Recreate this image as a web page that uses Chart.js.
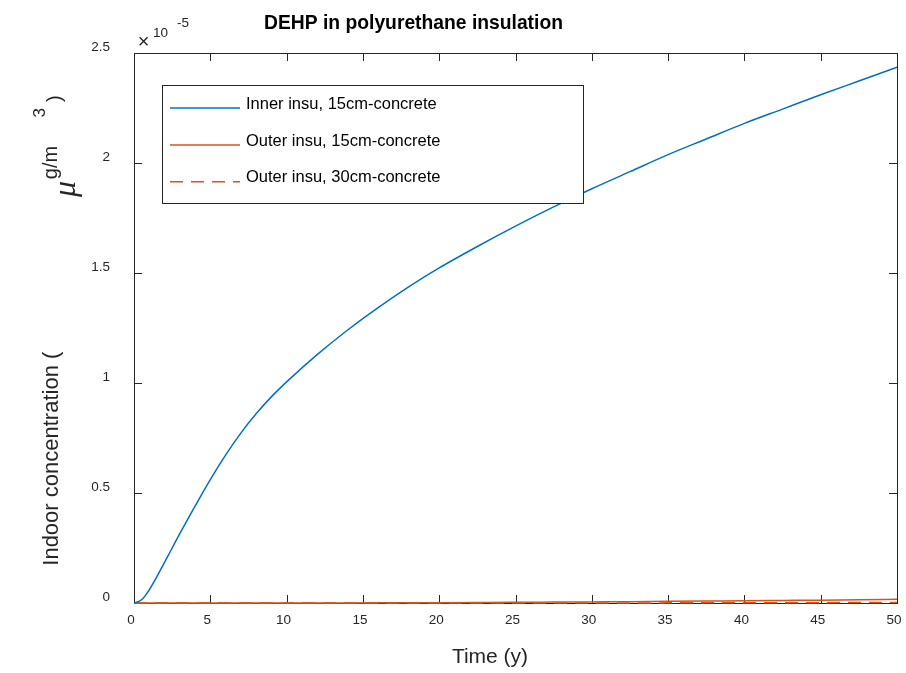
<!DOCTYPE html>
<html>
<head>
<meta charset="utf-8">
<script src="https://cdn.jsdelivr.net/npm/chart.js@4.4.1/dist/chart.umd.min.js"></script>
<style>
  html, body { margin: 0; padding: 0; background: #fff; overflow: hidden; }
  #wrap { width: 906px; height: 673px; position: relative; }
  canvas { display: block; }
</style>
</head>
<body>
<div id="wrap"><canvas id="chart"></canvas></div>
<script>
// time in years
const years = [0, 0.5, 1, 1.5, 2, 2.5, 3, 3.5, 4, 5, 6, 7, 8, 9, 10, 12, 14, 16, 18, 20, 22.5, 25, 27.5, 30, 32.5, 35, 37.5, 40, 42.5, 45, 47.5, 50];
// indoor concentration, x 1e-5 ug/m3
const innerInsu15 = [0, 0.015, 0.06, 0.12, 0.185, 0.25, 0.315, 0.378, 0.44, 0.561, 0.672, 0.772, 0.86, 0.937, 1.005, 1.129, 1.241, 1.343, 1.437, 1.523, 1.6205, 1.713, 1.8005, 1.883, 1.9605, 2.038, 2.109, 2.18, 2.245, 2.31, 2.3725, 2.435];
const outerInsu15 = [0, 0, 0, 0, 0, 0, 0, 0, 0, 0, 0, 0, 0, 0, 0, 0.0001, 0.0003, 0.0006, 0.001, 0.0015, 0.0022, 0.003, 0.004, 0.005, 0.006, 0.0075, 0.0088, 0.01, 0.0115, 0.013, 0.0148, 0.0165];
const outerInsu30 = [0, 0, 0, 0, 0, 0, 0, 0, 0, 0, 0, 0, 0, 0, 0, 0, 0, 0, 0, 0, 0, 0, 0, 0.0003, 0.0004, 0.0006, 0.0008, 0.001, 0.0013, 0.0016, 0.002, 0.0024];
const seriesNames = ['Inner insu, 15cm-concrete', 'Outer insu, 15cm-concrete', 'Outer insu, 30cm-concrete'];

const BLUE = '#0072BD';
const ORANGE = '#D95319';
const AXIS = '#262626';
const FONT = '"Liberation Sans", Arial, sans-serif';

function toPoints(values) {
    return years.map((t, i) => ({ x: t, y: values[i] }));
}

// box, inward ticks, title and labels drawn like the matlab figure
const matlabAxes = {
    id: 'matlabAxes',
    beforeDatasetsDraw(chart) {
        const ctx = chart.ctx;
        const a = chart.chartArea;
        const xs = chart.scales.x;
        const ys = chart.scales.y;
        ctx.save();
        ctx.strokeStyle = AXIS;
        ctx.lineWidth = 1;
        ctx.strokeRect(Math.round(a.left) + 0.5, Math.round(a.top) + 0.5, Math.round(a.right - a.left), Math.round(a.bottom - a.top));
        const len = 8;
        ctx.beginPath();
        xs.ticks.forEach(t => {
            const px = Math.round(xs.getPixelForValue(t.value)) + 0.5;
            ctx.moveTo(px, a.bottom); ctx.lineTo(px, a.bottom - len);
            ctx.moveTo(px, a.top); ctx.lineTo(px, a.top + len);
        });
        ys.ticks.forEach(t => {
            const py = Math.round(ys.getPixelForValue(t.value)) + 0.5;
            ctx.moveTo(a.left, py); ctx.lineTo(a.left + len, py);
            ctx.moveTo(a.right, py); ctx.lineTo(a.right - len, py);
        });
        ctx.stroke();
        ctx.restore();
    },
    afterDraw(chart) {
        const ctx = chart.ctx;
        ctx.save();
        ctx.fillStyle = '#000';

        // title
        ctx.font = 'bold 19.3px ' + FONT;
        ctx.textAlign = 'center';
        ctx.textBaseline = 'alphabetic';
        ctx.fillText('DEHP in polyurethane insulation', 413.5, 29);

        // exponent
        ctx.fillStyle = AXIS;
        ctx.font = '20px ' + FONT;
        ctx.textBaseline = 'middle';
        ctx.fillText('\u00d7', 143.5, 42);
        ctx.textAlign = 'left';
        ctx.textBaseline = 'alphabetic';
        ctx.font = '13.5px ' + FONT;
        ctx.fillText('10', 153, 37);
        ctx.fillText('-5', 177, 27);

        // x label
        ctx.fillStyle = AXIS;
        ctx.textAlign = 'center';
        ctx.font = '21px ' + FONT;
        ctx.fillText('Time (y)', 490, 663);

        // y label pieces, rotated
        const yPiece = (txt, font, x, y) => {
            ctx.save();
            ctx.translate(x, y);
            ctx.rotate(-Math.PI / 2);
            ctx.font = font;
            ctx.textAlign = 'center';
            ctx.textBaseline = 'alphabetic';
            ctx.fillText(txt, 0, 0);
            ctx.restore();
        };
        yPiece('Indoor concentration (', '22px ' + FONT, 58, 458.7);
        yPiece('\u03bc', 'italic 32px "Liberation Serif", serif', 75, 189);
        yPiece('g/m', '20px ' + FONT, 56.7, 162.5);
        yPiece('3', '17px ' + FONT, 45, 112.8);
        yPiece(')', '20px ' + FONT, 61.3, 98.7);

        // legend
        const lx = 162.5, ly = 85.5, lw = 421, lh = 118;
        ctx.fillStyle = '#fff';
        ctx.fillRect(lx, ly, lw, lh);
        ctx.strokeStyle = AXIS;
        ctx.lineWidth = 1;
        ctx.strokeRect(lx, ly, lw, lh);
        const rows = [108, 145, 181.7];
        const colors = [BLUE, ORANGE, ORANGE];
        const dashes = [[], [], [13, 8]];
        rows.forEach((ry, i) => {
            ctx.beginPath();
            ctx.strokeStyle = colors[i];
            ctx.lineWidth = 1.5;
            ctx.setLineDash(dashes[i]);
            ctx.moveTo(170, ry);
            ctx.lineTo(240, ry);
            ctx.stroke();
            ctx.setLineDash([]);
            ctx.fillStyle = '#000';
            ctx.font = '16.5px ' + FONT;
            ctx.textAlign = 'left';
            ctx.textBaseline = 'alphabetic';
            ctx.fillText(seriesNames[i], 246, ry + 0.5);
        });
        ctx.restore();
    }
};

new Chart(document.getElementById('chart'), {
    type: 'line',
    data: {
        datasets: [
            { label: seriesNames[0], data: toPoints(innerInsu15), borderColor: BLUE, borderWidth: 1.5 },
            { label: seriesNames[1], data: toPoints(outerInsu15), borderColor: ORANGE, borderWidth: 1.5 },
            { label: seriesNames[2], data: toPoints(outerInsu30), borderColor: ORANGE, borderWidth: 1.5, borderDash: [13, 8] }
        ]
    },
    options: {
        responsive: true,
        maintainAspectRatio: false,
        animation: false,
        layout: { padding: { top: 53, right: 9, left: 0, bottom: 0 } },
        elements: {
            point: { radius: 0 },
            line: { cubicInterpolationMode: 'monotone', fill: false }
        },
        datasets: { line: { clip: 5 } },
        plugins: {
            legend: { display: false },
            title: { display: false },
            tooltip: { enabled: false }
        },
        scales: {
            x: {
                type: 'linear',
                min: 0,
                max: 50,
                afterFit: (scale) => { scale.height = 70; },
                ticks: { stepSize: 5, color: AXIS, font: { family: FONT, size: 13.5 }, padding: 0, labelOffset: -3, maxRotation: 0 },
                grid: { display: false, drawTicks: true, tickLength: 9 },
                border: { display: false }
            },
            y: {
                min: 0,
                max: 2.5,
                afterFit: (scale) => { scale.width = 134; },
                ticks: { stepSize: 0.5, color: AXIS, font: { family: FONT, size: 13.5 }, padding: 24, labelOffset: -6, callback: (v) => String(v) },
                grid: { display: false, drawTicks: false },
                border: { display: false }
            }
        }
    },
    plugins: [matlabAxes]
});
</script>
</body>
</html>
